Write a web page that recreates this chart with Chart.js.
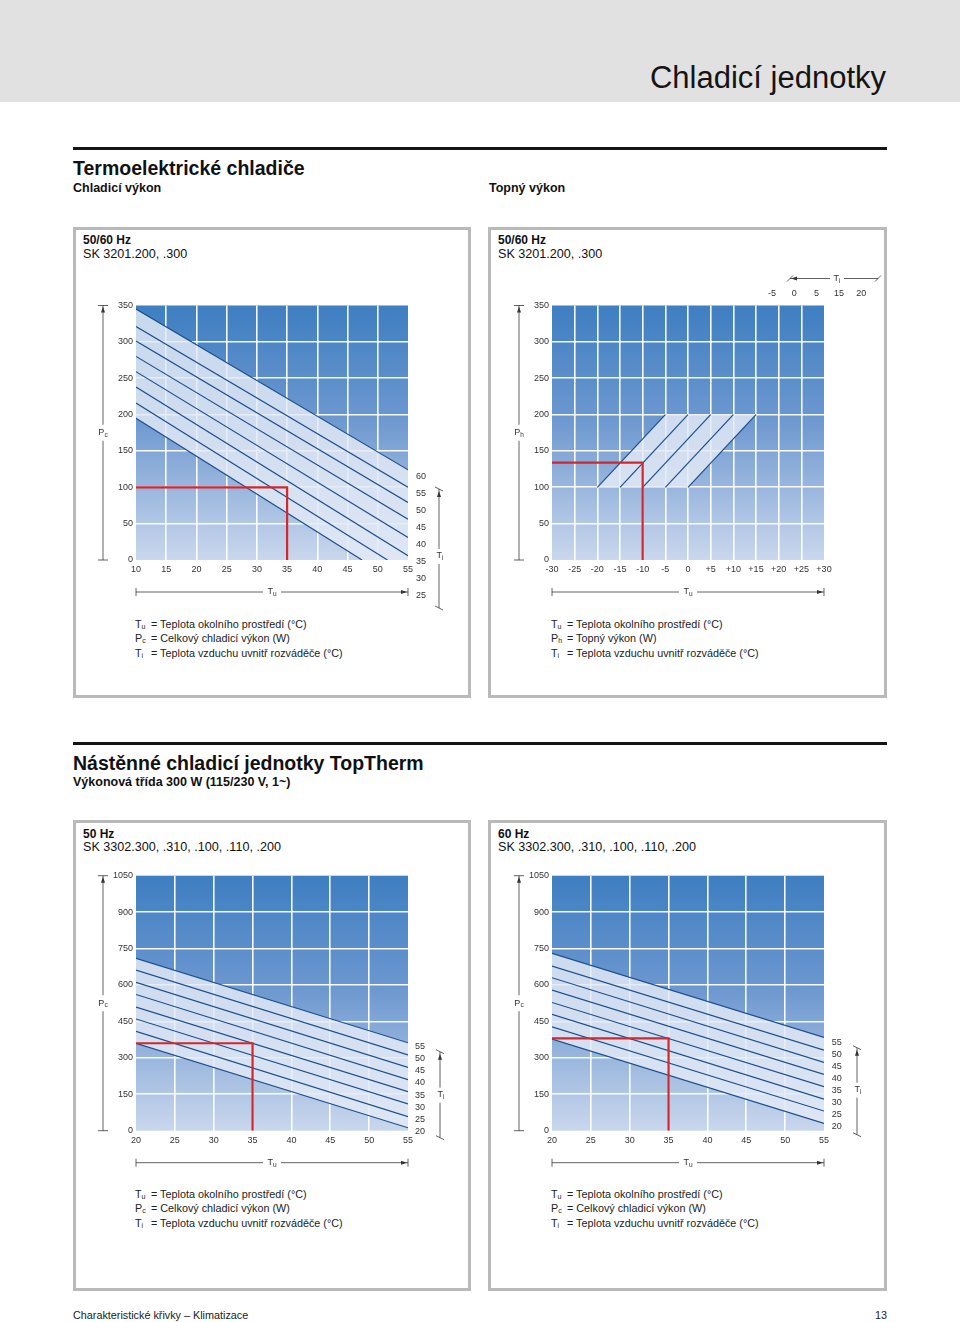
<!DOCTYPE html>
<html><head><meta charset="utf-8">
<script src="https://cdn.jsdelivr.net/npm/chart.js@4.4.1/dist/chart.umd.min.js"></script>
<style>
body{margin:0;background:#fff;font-family:"Liberation Sans",Arial,Helvetica,sans-serif;color:#111;}
#page{position:relative;width:960px;height:1322px;overflow:hidden;background:#fff;}
.abs{position:absolute;white-space:nowrap;}
.header{left:0;top:0;width:960px;height:102px;background:#e1e1e1;}
.title{right:74px;top:61.5px;font-size:31px;line-height:31px;color:#141414;}
.rule{left:73px;width:814px;height:3px;background:#151515;}
.h1{left:73px;font-weight:bold;font-size:19.5px;line-height:19px;}
.h2{font-weight:bold;font-size:12.5px;line-height:13px;}
.box{border:3px solid #b9b9b9;box-sizing:border-box;}
.bt{font-weight:bold;font-size:12px;line-height:12px;}
.bs{font-size:12.6px;line-height:13px;}
.legend{font-size:10.8px;line-height:14.5px;color:#222;}
.legend div{position:relative;height:14.5px;}
.legend .s{display:inline-block;width:16px;}
.legend sub{font-size:7px;vertical-align:-1px;}
.foot{font-size:10.8px;line-height:11px;color:#222;}
canvas{position:absolute;}
</style></head>
<body><div id="page">
<div class="abs header"></div>
<div class="abs title">Chladicí jednotky</div>

<div class="abs rule" style="top:146.5px"></div>
<div class="abs h1" style="top:158.5px">Termoelektrické chladiče</div>
<div class="abs h2" style="left:73px;top:181.5px">Chladicí výkon</div>
<div class="abs h2" style="left:489px;top:181.5px">Topný výkon</div>

<div class="abs box" style="left:73px;top:227px;width:398px;height:471px"></div>
<div class="abs box" style="left:488px;top:227px;width:399px;height:471px"></div>
<div class="abs bt" style="left:83px;top:234px">50/60 Hz</div>
<div class="abs bs" style="left:83px;top:247.5px">SK 3201.200, .300</div>
<div class="abs bt" style="left:498px;top:234px">50/60 Hz</div>
<div class="abs bs" style="left:498px;top:247.5px">SK 3201.200, .300</div>

<div class="abs legend" style="left:135px;top:616.5px">
<div><span class="s">T<sub>u</sub></span>= Teplota okolního prostředí (°C)</div>
<div><span class="s">P<sub>c</sub></span>= Celkový chladicí výkon (W)</div>
<div><span class="s">T<sub>i</sub></span>= Teplota vzduchu uvnitř rozváděče (°C)</div>
</div>
<div class="abs legend" style="left:551px;top:616.5px">
<div><span class="s">T<sub>u</sub></span>= Teplota okolního prostředí (°C)</div>
<div><span class="s">P<sub>h</sub></span>= Topný výkon (W)</div>
<div><span class="s">T<sub>i</sub></span>= Teplota vzduchu uvnitř rozváděče (°C)</div>
</div>

<div class="abs rule" style="top:741.5px"></div>
<div class="abs h1" style="top:753.5px">Nástěnné chladicí jednotky TopTherm</div>
<div class="abs h2" style="left:73px;top:775.5px">Výkonová třída 300 W (115/230 V, 1~)</div>

<div class="abs box" style="left:73px;top:820px;width:398px;height:471px"></div>
<div class="abs box" style="left:488px;top:820px;width:399px;height:471px"></div>
<div class="abs bt" style="left:83px;top:827.5px">50 Hz</div>
<div class="abs bs" style="left:83px;top:841px">SK 3302.300, .310, .100, .110, .200</div>
<div class="abs bt" style="left:498px;top:827.5px">60 Hz</div>
<div class="abs bs" style="left:498px;top:841px">SK 3302.300, .310, .100, .110, .200</div>

<div class="abs legend" style="left:135px;top:1186.5px">
<div><span class="s">T<sub>u</sub></span>= Teplota okolního prostředí (°C)</div>
<div><span class="s">P<sub>c</sub></span>= Celkový chladicí výkon (W)</div>
<div><span class="s">T<sub>i</sub></span>= Teplota vzduchu uvnitř rozváděče (°C)</div>
</div>
<div class="abs legend" style="left:551px;top:1186.5px">
<div><span class="s">T<sub>u</sub></span>= Teplota okolního prostředí (°C)</div>
<div><span class="s">P<sub>c</sub></span>= Celkový chladicí výkon (W)</div>
<div><span class="s">T<sub>i</sub></span>= Teplota vzduchu uvnitř rozváděče (°C)</div>
</div>

<div class="abs foot" style="left:73px;top:1309.5px">Charakteristické křivky – Klimatizace</div>
<div class="abs foot" style="right:73px;top:1309.5px">13</div>

<canvas id="c1" width="392" height="350" style="left:76px;top:262px"></canvas>
<canvas id="c2" width="392" height="350" style="left:492px;top:262px"></canvas>
<canvas id="c3" width="392" height="350" style="left:76px;top:832px"></canvas>
<canvas id="c4" width="392" height="350" style="left:492px;top:832px"></canvas>
</div>
<script>
// ---------- DATA ----------
// Chart 1: Termoelektrické chladiče – chladicí výkon (Pc vs Tu, one line per Ti)
const c1Ti = [60, 55, 50, 45, 40, 35, 30, 25];
const c1StartTu = [10, 10, 10, 10, 10, 10, 10, 10];
const c1StartPc = [345, 321, 301, 280, 259, 238, 216, 195];
const c1EndTu = [55, 55, 55, 55, 55, 55, 51.6, 47.4];
const c1EndPc = [124, 100, 79, 56, 31, 6, 0, 0];
const c1RedTu = [10, 35, 35];
const c1RedPc = [100, 100, 0];

// Chart 2: Termoelektrické chladiče – topný výkon (Ph vs Tu)
const c2Ti = [-5, 0, 5, 15, 20];
const c2StartTu = [-20, -15, -10, -5, 0];
const c2StartPh = [100, 100, 100, 100, 100];
const c2EndTu = [-5, 0, 5, 10, 15];
const c2EndPh = [200, 200, 200, 200, 200];
const c2RedTu = [-30, -10, -10];
const c2RedPh = [134, 134, 0];

// Chart 3: TopTherm 50 Hz
const c3Ti = [55, 50, 45, 40, 35, 30, 25, 20];
const c3StartTu = [20, 20, 20, 20, 20, 20, 20, 20];
const c3StartPc = [710, 661, 611, 561, 509, 460, 409, 360];
const c3EndTu = [55, 55, 55, 55, 55, 55, 55, 55];
const c3EndPc = [362, 312, 261, 210, 161, 110, 58, 12];
const c3RedTu = [20, 35, 35];
const c3RedPc = [360, 360, 0];

// Chart 4: TopTherm 60 Hz
const c4Ti = [55, 50, 45, 40, 35, 30, 25, 20];
const c4StartTu = [20, 20, 20, 20, 20, 20, 20, 20];
const c4StartPc = [730, 678, 630, 579, 528, 479, 428, 377];
const c4EndTu = [55, 55, 55, 55, 55, 55, 55, 55];
const c4EndPc = [384, 332, 281, 232, 181, 130, 81, 30];
const c4RedTu = [20, 35, 35];
const c4RedPc = [380, 380, 0];

// ---------- HELPERS ----------
const FONT = '"Liberation Sans", Arial, sans-serif';
const LINE_COL = '#1d4f8c';
const RED_COL = '#d4262c';
const BAND_COL = 'rgba(226,233,246,0.84)';

function lineDatasets(sx, sy, ex, ey) {
  return sx.map((_, i) => ({
    data: [{x: sx[i], y: sy[i]}, {x: ex[i], y: ey[i]}],
    showLine: true, borderColor: LINE_COL, borderWidth: 1.2,
    pointRadius: 0, fill: false, order: 5
  }));
}
function bandDataset(sx, sy, ex, ey) {
  const n = sx.length - 1;
  const pts = [{x: sx[0], y: sy[0]}, {x: ex[0], y: ey[0]}];
  if (ex[n] < ex[0]) pts.push({x: ex[0], y: ey[n]});
  pts.push({x: ex[n], y: ey[n]}, {x: sx[n], y: sy[n]});
  return {data: pts, showLine: true, borderWidth: 0, borderColor: 'rgba(0,0,0,0)',
    backgroundColor: BAND_COL, fill: 'shape', pointRadius: 0, order: 10};
}
function redDataset(xs, ys) {
  return {data: xs.map((x, i) => ({x, y: ys[i]})), showLine: true,
    borderColor: RED_COL, borderWidth: 2.2, pointRadius: 0, fill: false, order: 1};
}
function gridCol(min, max) {
  return c => (c.tick && (c.tick.value === min || c.tick.value === max)) ? 'rgba(0,0,0,0)' : 'rgba(255,255,255,0.95)';
}
function axis(min, max, step, isX, fmt) {
  return {
    type: 'linear', min, max,
    ticks: {stepSize: step, autoSkip: false, maxRotation: 0, padding: isX ? 4 : 3,
      font: {family: FONT, size: 9}, color: '#333',
      callback: fmt || (v => String(v))},
    grid: {color: gridCol(min, max), lineWidth: 1.6, drawTicks: false},
    border: {display: false},
    afterFit: s => { if (isX) s.height = 20; else s.width = 30; }
  };
}

const bgPlugin = {
  id: 'bg',
  beforeDraw(chart) {
    const {ctx, chartArea: a} = chart;
    const g = ctx.createLinearGradient(0, a.top, 0, a.bottom);
    g.addColorStop(0, '#3e7ec1');
    g.addColorStop(0.45, '#6d98d0');
    g.addColorStop(1, '#cad7ed');
    ctx.save(); ctx.fillStyle = g;
    ctx.fillRect(a.left, a.top, a.right - a.left, a.bottom - a.top);
    ctx.restore();
  }
};

function subText(ctx, x, y, main, sub) {
  ctx.font = '9px ' + FONT; const w1 = ctx.measureText(main).width;
  ctx.font = '6.5px ' + FONT; const w2 = ctx.measureText(sub).width;
  const x0 = x - (w1 + w2) / 2;
  ctx.textAlign = 'left'; ctx.textBaseline = 'middle';
  ctx.font = '9px ' + FONT; ctx.fillText(main, x0, y);
  ctx.font = '6.5px ' + FONT; ctx.fillText(sub, x0 + w1, y + 2.5);
}
function arrow(ctx, x, y, dir) {
  ctx.beginPath();
  if (dir === 'up') { ctx.moveTo(x, y); ctx.lineTo(x - 2, y + 6); ctx.lineTo(x + 2, y + 6); }
  if (dir === 'right') { ctx.moveTo(x, y); ctx.lineTo(x - 6, y - 2); ctx.lineTo(x - 6, y + 2); }
  if (dir === 'left') { ctx.moveTo(x, y); ctx.lineTo(x + 6, y - 2); ctx.lineTo(x + 6, y + 2); }
  ctx.closePath(); ctx.fill();
}
function seg(ctx, x1, y1, x2, y2) { ctx.beginPath(); ctx.moveTo(x1, y1); ctx.lineTo(x2, y2); ctx.stroke(); }

const deco = {
  id: 'deco',
  afterDraw(chart, args, o) {
    const {ctx, chartArea: a} = chart;
    ctx.save();
    ctx.strokeStyle = '#3a3a3a'; ctx.fillStyle = '#333'; ctx.lineWidth = 0.8;
    // left (vertical) bracket
    const lx = a.left - 33, my = (a.top + a.bottom) / 2;
    seg(ctx, lx, a.top, lx, my - 8); seg(ctx, lx, my + 8, lx, a.bottom);
    seg(ctx, lx - 5, a.top, lx + 5, a.top); seg(ctx, lx - 5, a.bottom, lx + 5, a.bottom);
    arrow(ctx, lx, a.top + 1, 'up');
    subText(ctx, lx, my, o.yMain, o.ySub);
    // bottom (horizontal) bracket
    const by = a.bottom + 32, mx = (a.left + a.right) / 2;
    seg(ctx, a.left, by, mx - 9, by); seg(ctx, mx + 9, by, a.right, by);
    seg(ctx, a.left, by - 4, a.left, by + 4); seg(ctx, a.right, by - 4, a.right, by + 4);
    arrow(ctx, a.right - 1, by, 'right');
    subText(ctx, mx, by, 'T', 'u');
    // right Ti label column + bracket
    if (o.tiLabels) {
      ctx.font = '9px ' + FONT; ctx.textAlign = 'center'; ctx.textBaseline = 'middle';
      o.tiLabels.forEach((t, i) => ctx.fillText(String(t), a.right + o.tiX, a.bottom + o.tiY0 + i * o.tiStep));
      const rx = a.right + o.brX, y1 = a.bottom + o.brY1, y2 = a.bottom + o.brY2, ty = a.bottom + o.brLab;
      seg(ctx, rx, y1, rx, ty - 7); seg(ctx, rx, ty + 8, rx, y2);
      seg(ctx, rx - 4, y1 - 2, rx + 4, y1 + 2); seg(ctx, rx - 4, y2 - 2, rx + 4, y2 + 2);
      arrow(ctx, rx, y1 + 2, 'up');
      subText(ctx, rx + 1, ty, 'T', 'i');
    }
    // top Ti scale (heating chart)
    if (o.topLabels) {
      ctx.font = '9px ' + FONT; ctx.textAlign = 'center'; ctx.textBaseline = 'middle';
      o.topLabels.forEach((t, i) => ctx.fillText(String(t), a.right - 52 + i * 22.3, a.top - 11.5));
      const ty = a.top - 27, x1 = a.right - 34, x2 = a.right + 54, tx = a.right + 13;
      seg(ctx, x1, ty, tx - 7, ty); seg(ctx, tx + 7, ty, x2, ty);
      seg(ctx, x1 - 3, ty + 3, x1 + 3, ty - 3); seg(ctx, x2 - 3, ty + 3, x2 + 3, ty - 3);
      arrow(ctx, x1 + 1, ty, 'left');
      subText(ctx, tx, ty, 'T', 'i');
    }
    ctx.restore();
  }
};

function makeChart(id, datasets, xAx, yAx, decoOpts, padTop, padBottom) {
  return new Chart(document.getElementById(id), {
    type: 'scatter',
    data: {datasets},
    options: {
      responsive: false, animation: false, events: [],
      layout: {padding: {left: 30, right: 60, top: padTop, bottom: padBottom}},
      scales: {x: xAx, y: yAx},
      plugins: {legend: {display: false}, tooltip: {enabled: false}, deco: decoOpts}
    },
    plugins: [bgPlugin, deco]
  });
}

makeChart('c1',
  [bandDataset(c1StartTu, c1StartPc, c1EndTu, c1EndPc),
   ...lineDatasets(c1StartTu, c1StartPc, c1EndTu, c1EndPc),
   redDataset(c1RedTu, c1RedPc)],
  axis(10, 55, 5, true), axis(0, 350, 50, false),
  {yMain: 'P', ySub: 'c', tiLabels: c1Ti, tiX: 13, tiY0: -83, tiStep: 16.86,
   brX: 31, brY1: -71, brY2: 48, brLab: -4}, 43.5, 32);

makeChart('c2',
  [bandDataset(c2StartTu, c2StartPh, c2EndTu, c2EndPh),
   ...lineDatasets(c2StartTu, c2StartPh, c2EndTu, c2EndPh),
   redDataset(c2RedTu, c2RedPh)],
  axis(-30, 30, 5, true, v => v > 0 ? '+' + v : String(v)), axis(0, 350, 50, false),
  {yMain: 'P', ySub: 'h', topLabels: c2Ti}, 43.5, 32);

makeChart('c3',
  [bandDataset(c3StartTu, c3StartPc, c3EndTu, c3EndPc),
   ...lineDatasets(c3StartTu, c3StartPc, c3EndTu, c3EndPc),
   redDataset(c3RedTu, c3RedPc)],
  axis(20, 55, 5, true), axis(0, 1050, 150, false),
  {yMain: 'P', ySub: 'c', tiLabels: c3Ti, tiX: 12, tiY0: -84, tiStep: 12.1,
   brX: 32, brY1: -79, brY2: 7, brLab: -36}, 43.7, 31.3);

makeChart('c4',
  [bandDataset(c4StartTu, c4StartPc, c4EndTu, c4EndPc),
   ...lineDatasets(c4StartTu, c4StartPc, c4EndTu, c4EndPc),
   redDataset(c4RedTu, c4RedPc)],
  axis(20, 55, 5, true), axis(0, 1050, 150, false),
  {yMain: 'P', ySub: 'c', tiLabels: c4Ti, tiX: 12.7, tiY0: -88.3, tiStep: 12,
   brX: 33, brY1: -83, brY2: 4, brLab: -41}, 43.7, 31.3);
</script>
</body></html>
